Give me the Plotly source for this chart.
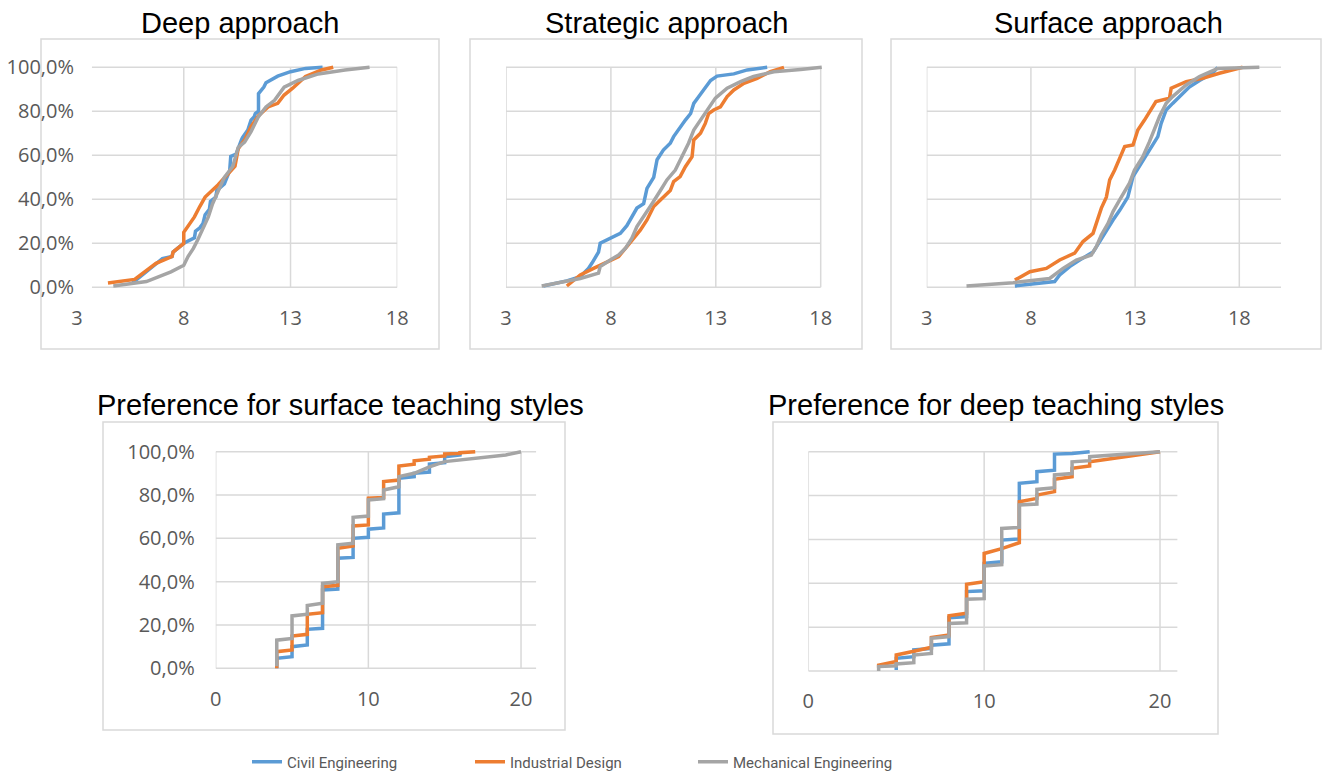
import plotly.graph_objects as go

# ---------------- data ----------------
SERIES = ["Civil Engineering", "Industrial Design", "Mechanical Engineering"]
COLORS = ["#5B9BD5", "#ED7D31", "#A5A5A5"]

# Deep approach
deep_civil_x = [5.6, 6.7, 7.0, 7.45, 7.5, 8.0, 8.5, 8.55, 8.75, 8.9, 9.0, 9.2, 9.25, 9.5, 9.55, 9.9, 10.15, 10.2, 10.45, 10.7, 10.75, 11.0, 11.15, 11.3, 11.35, 11.5, 11.5, 11.75, 11.85, 12.4, 13.0, 13.7, 14.5]
deep_civil_y = [2, 10.9, 13, 14, 16, 20, 22.5, 25.5, 27, 29, 33, 35.5, 39, 41, 44, 47, 53, 59.5, 60.5, 67, 68, 71.5, 76, 77.5, 79, 80, 88, 91, 93, 96, 98, 99.5, 100]
deep_ind_x = [4.45, 5.7, 6.7, 7.45, 7.5, 8.0, 8.0, 8.2, 8.5, 8.75, 9.0, 9.6, 9.9, 10.4, 10.55, 10.85, 11.15, 11.5, 11.95, 12.4, 12.7, 13.1, 13.7, 14.45, 15.0]
deep_ind_y = [2, 3.6, 10.9, 14, 16, 20, 25, 28, 32, 36.7, 41, 46.5, 49.5, 55, 63, 67, 73, 78, 82, 83.6, 87.4, 90.5, 95.8, 98.8, 100]
deep_mech_x = [4.7, 6.25, 7.4, 8.0, 8.2, 8.45, 8.65, 8.9, 9.15, 9.35, 9.6, 9.9, 10.3, 10.55, 10.85, 11.15, 11.5, 11.85, 12.25, 12.7, 13.35, 14.3, 15.55, 16.7]
deep_mech_y = [0.6, 2.6, 7, 10, 14, 17.7, 21.5, 27, 32, 38, 43.5, 50, 55, 63.6, 66, 70.8, 77.6, 82, 85, 91, 94, 97, 98.8, 100]

# Strategic approach
strat_civil_x = [4.78, 5.9, 6.54, 6.93, 7.1, 7.41, 7.49, 8.13, 8.45, 8.76, 9.08, 9.24, 9.56, 9.72, 10.04, 10.2, 10.5, 10.83, 10.99, 11.3, 11.55, 11.8, 11.95, 12.19, 12.43, 12.75, 13.06, 13.86, 14.5, 15.45]
strat_civil_y = [0.6, 2.9, 4.8, 8.6, 11, 16, 20, 23, 24.5, 28, 33.6, 36, 38, 45, 50, 58, 62.4, 65.5, 68.5, 73, 76, 79, 83.6, 86.7, 89.7, 94, 96, 97, 98.8, 100]
strat_ind_x = [5.9, 6.54, 7.17, 7.97, 8.37, 8.76, 9.08, 9.4, 9.72, 10.04, 10.36, 10.83, 10.99, 11.3, 11.55, 11.87, 11.95, 12.27, 12.5, 12.66, 12.9, 13.22, 13.54, 13.86, 14.34, 14.97, 15.6, 16.25]
strat_ind_y = [0.6, 5.6, 8.6, 12.4, 14, 18.5, 22.3, 26, 30.6, 36.7, 39.7, 44, 48, 50.3, 54.8, 59.4, 67, 70, 74.5, 79, 80.6, 82, 86.7, 89.7, 92.7, 95, 98, 100]
strat_mech_x = [4.7, 5.58, 6.54, 7.41, 7.49, 7.97, 8.37, 8.69, 9.0, 9.24, 9.56, 9.96, 10.36, 10.67, 11.07, 11.4, 11.7, 11.95, 12.27, 12.59, 12.98, 13.54, 14.18, 14.8, 15.77, 17.04, 18.05]
strat_mech_y = [0.6, 2.1, 4, 6.4, 9.4, 12.4, 14.7, 17.7, 22.3, 27.6, 32, 38, 44, 48.8, 53.3, 59.4, 65.5, 71.5, 76, 80.6, 86, 90.5, 93.5, 95.8, 98, 99, 100]

# Surface approach
surf_civil_x = [7.23, 9.14, 9.38, 9.86, 10.34, 10.98, 11.3, 11.62, 11.94, 12.26, 12.65, 12.9, 13.2, 13.53, 13.85, 14.09, 14.25, 14.49, 14.8, 15.13, 15.6, 16.09, 16.72, 16.96]
surf_civil_y = [0.6, 2.6, 5.6, 9.4, 12.4, 16, 20.8, 26, 30.6, 35, 41, 50.3, 54.8, 59.4, 64.7, 68.5, 74.5, 80.6, 83.6, 86.7, 91, 94, 97.3, 100]
surf_ind_x = [7.23, 7.95, 8.74, 9.38, 10.1, 10.5, 10.98, 11.14, 11.38, 11.62, 11.78, 12.02, 12.26, 12.5, 12.9, 13.13, 13.45, 13.7, 14.0, 14.65, 14.73, 15.45, 16.24, 17.04, 17.68, 18.16]
surf_ind_y = [3.3, 7.1, 8.6, 12.4, 15.5, 20.8, 24.5, 29, 36, 41, 48.8, 53.3, 58.6, 64, 64.7, 71.5, 76, 80, 84.4, 86, 90.5, 93.5, 95, 97.3, 99, 100]
surf_mech_x = [4.91, 7.15, 8.9, 9.22, 9.54, 10.18, 10.9, 11.14, 11.38, 11.7, 11.94, 12.26, 12.73, 12.97, 13.37, 13.69, 13.93, 14.17, 14.49, 14.8, 15.45, 16.09, 16.96, 18.96]
surf_mech_y = [0.6, 2.1, 4, 6.4, 8.6, 12.4, 14.7, 18.5, 23.8, 29, 34.4, 39.7, 47.3, 53.3, 59.4, 66.2, 71.5, 77.6, 83.6, 86.7, 92, 95.8, 99.5, 100]

# Preference for surface teaching styles
psurf_civil_x = [4, 4, 5, 5, 6, 6, 7, 7, 8, 8, 9, 9, 10, 10, 11, 11, 12, 12, 13, 13, 14, 14, 15, 15, 16, 16]
psurf_civil_y = [0, 4.6, 5.4, 10, 10.8, 18, 18.5, 36.2, 36.6, 50.8, 51.2, 60, 60.5, 64.2, 64.8, 71.2, 71.8, 87.7, 88.5, 90, 90.6, 94.3, 94.9, 97.7, 98.5, 100]
psurf_ind_x = [4, 4, 5, 5, 6, 6, 7, 7, 8, 8, 9, 9, 10, 10, 11, 11, 12, 12, 13, 13, 14, 14, 15, 15, 16, 16, 17]
psurf_ind_y = [0, 7.7, 8.5, 14.9, 15.7, 24.9, 25.7, 37.7, 38.3, 55.4, 56.5, 65.7, 66.2, 78.5, 78.9, 86.2, 86.9, 93.4, 94.2, 95.8, 96.5, 97.4, 98, 98.9, 99.2, 99.5, 100]
psurf_mech_x = [4, 4, 5, 5, 6, 6, 7, 7, 8, 8, 9, 9, 10, 10, 11, 11, 12, 12, 13, 14, 15, 17, 19, 20]
psurf_mech_y = [1, 13, 13.8, 24.2, 25, 29, 30, 39.2, 40, 57, 57.7, 69.7, 70.3, 77.7, 78.3, 82.3, 83.8, 88.5, 90, 93, 95.4, 97, 98.5, 100]

# Preference for deep teaching styles
pdeep_civil_x = [5, 5, 6, 6, 7, 7, 8, 8, 9, 9, 10, 10, 11, 11, 12, 12, 13, 13, 14, 14, 15, 16]
pdeep_civil_y = [0.5, 5.8, 6.5, 9.6, 10.3, 11.8, 12.4, 24.3, 24.8, 36.2, 36.6, 49.1, 49.8, 59.7, 60.2, 85.6, 86.3, 90.9, 91.6, 98.9, 99.2, 100]
pdeep_ind_x = [4, 4, 5, 5, 6, 7, 7, 8, 8, 9, 9, 10, 10, 11, 12, 12, 13, 13, 14, 14, 15, 15, 16, 16, 20]
pdeep_ind_y = [1.5, 2.7, 4.3, 7.3, 9, 10.8, 15.3, 16.4, 25.2, 26.3, 39.5, 40.7, 53.6, 55.8, 58.5, 77.2, 78.7, 80.2, 81.8, 87.4, 88.6, 92.4, 93.5, 95.4, 100]
pdeep_mech_x = [4, 4, 5, 5, 6, 6, 7, 7, 8, 8, 9, 9, 10, 10, 11, 11, 12, 12, 13, 13, 14, 14, 15, 15, 16, 16, 20]
pdeep_mech_y = [0, 2, 2.4, 3.2, 3.8, 7.3, 8, 14.9, 15.7, 21.7, 22, 32.7, 33, 47.9, 48.5, 65, 65.5, 75.7, 76.1, 82.8, 83.6, 89.4, 90, 95.4, 95.9, 97.7, 100]

TITLES = ["Deep approach", "Strategic approach", "Surface approach",
          "Preference for surface teaching styles", "Preference for deep teaching styles"]
Y_TICKS = [0, 20, 40, 60, 80, 100]
Y_TICKTEXT = ["0,0%", "20,0%", "40,0%", "60,0%", "80,0%", "100,0%"]
X_TICKS_TOP = [3, 8, 13, 18]
X_TICKS_BOTTOM = [0, 10, 20]

PANEL_DATA = [
    [(deep_civil_x, deep_civil_y), (deep_ind_x, deep_ind_y), (deep_mech_x, deep_mech_y)],
    [(strat_civil_x, strat_civil_y), (strat_ind_x, strat_ind_y), (strat_mech_x, strat_mech_y)],
    [(surf_civil_x, surf_civil_y), (surf_ind_x, surf_ind_y), (surf_mech_x, surf_mech_y)],
    [(psurf_civil_x, psurf_civil_y), (psurf_ind_x, psurf_ind_y), (psurf_mech_x, psurf_mech_y)],
    [(pdeep_civil_x, pdeep_civil_y), (pdeep_ind_x, pdeep_ind_y), (pdeep_mech_x, pdeep_mech_y)],
]

# ---------------- layout geometry (pixels) ----------------
W, H = 1322, 776
def px(x): return x / W
def py(y): return 1 - y / H

GRID = "#D9D9D9"
TICK_COLOR = "#595959"
TICK_FONT = dict(family="Open Sans, Noto Sans, sans-serif", size=20, color=TICK_COLOR)
TITLE_FONT = dict(family="Liberation Sans, Arial, sans-serif", size=29, color="#000000")

PANELS = [
    dict(xd=(77, 397.3), xr=(3, 18), yd=(65.1, 289.5), xt=X_TICKS_TOP, ylab=True,
         hx0=3.7, hx1=18, vg=[8, 13, 18], frame=(41, 39, 439, 349), tpos=(240, 23)),
    dict(xd=(506, 822.8), xr=(3, 18.1), yd=(65.1, 289.5), xt=X_TICKS_TOP, ylab=False,
         hx0=3, hx1=18, vg=[3, 8, 13, 18], frame=(470, 39, 862, 349), tpos=(666, 23)),
    dict(xd=(926.7, 1281), xr=(3, 20), yd=(65.1, 289.5), xt=X_TICKS_TOP, ylab=False,
         hx0=3, hx1=20, vg=[3, 8, 13, 18], frame=(891, 39, 1321, 349), tpos=(1108, 23)),
    dict(xd=(215.7, 536.3), xr=(0, 21), yd=(449.5, 670.5), xt=X_TICKS_BOTTOM, ylab=True,
         hx0=0, hx1=21, vg=[0, 10, 20], frame=(103, 422, 565, 730), tpos=(340, 405)),
    dict(xd=(808.3, 1177.6), xr=(0, 21), yd=(449.5, 673.2), xt=X_TICKS_BOTTOM, ylab=False,
         hx0=0, hx1=21, vg=[0, 10, 20], frame=(773, 422, 1218, 734), tpos=(996, 405)),
]

fig = go.Figure()
layout = dict(
    width=W, height=H, autosize=False,
    margin=dict(l=0, r=0, t=0, b=0, autoexpand=False),
    paper_bgcolor="white", plot_bgcolor="white",
    showlegend=True,
    legend=dict(orientation="h", x=px(247), xanchor="left", y=py(762), yanchor="middle",
                font=dict(family="Roboto, sans-serif", size=15, color=TICK_COLOR),
                entrywidth=178, entrywidthmode="pixels", bgcolor="rgba(0,0,0,0)"),
)
shapes = []
annotations = []

for i, (p, series) in enumerate(zip(PANELS, PANEL_DATA)):
    n = "" if i == 0 else str(i + 1)
    xa, ya = "x" + n, "y" + n
    layout["xaxis" + n] = dict(
        domain=[px(p["xd"][0]), px(p["xd"][1])], range=list(p["xr"]), anchor=ya,
        tickmode="array", tickvals=p["xt"], ticktext=[str(v) for v in p["xt"]],
        showgrid=False, zeroline=False, showline=False, ticks="", automargin=False,
        tickfont=TICK_FONT, ticklabelstandoff=14, fixedrange=True)
    layout["yaxis" + n] = dict(
        domain=[py(p["yd"][1]), py(p["yd"][0])], range=[-1, 101], anchor=xa,
        tickmode="array", tickvals=Y_TICKS, ticktext=Y_TICKTEXT,
        showticklabels=p["ylab"], showgrid=False, zeroline=False, showline=False, ticks="",
        automargin=False,
        tickfont=TICK_FONT, ticklabelstandoff=(2 if i == 0 else 20), fixedrange=True)
    fx0, fy0, fx1, fy1 = p["frame"]
    shapes.append(dict(type="rect", xref="paper", yref="paper", x0=px(fx0), x1=px(fx1),
                       y0=py(fy1), y1=py(fy0), line=dict(color=GRID, width=1.5),
                       fillcolor="rgba(0,0,0,0)", layer="below"))
    for yv in Y_TICKS:
        shapes.append(dict(type="line", xref=xa, yref=ya, x0=p["hx0"], x1=p["hx1"], y0=yv, y1=yv,
                           line=dict(color=GRID, width=1.5), layer="below"))
    for xv in p["vg"]:
        shapes.append(dict(type="line", xref=xa, yref=ya, x0=xv, x1=xv, y0=0, y1=100,
                           line=dict(color=GRID, width=1.5), layer="below"))
    tx, ty = p["tpos"]
    annotations.append(dict(text=TITLES[i], xref="paper", yref="paper", x=px(tx), y=py(ty),
                            xanchor="center", yanchor="middle", showarrow=False, font=TITLE_FONT))
    for j, (xs, ys) in enumerate(series):
        fig.add_trace(go.Scatter(x=xs, y=ys, mode="lines", name=SERIES[j], xaxis=xa, yaxis=ya,
                                 line=dict(color=COLORS[j], width=3.5), showlegend=(i == 0),
                                 hoverinfo="skip"))

layout["shapes"] = shapes
layout["annotations"] = annotations
fig.update_layout(**layout)

fig.write_html("out.html", config={"displayModeBar": False},
               post_script="document.body.style.margin='0';document.body.style.overflow='hidden';")
